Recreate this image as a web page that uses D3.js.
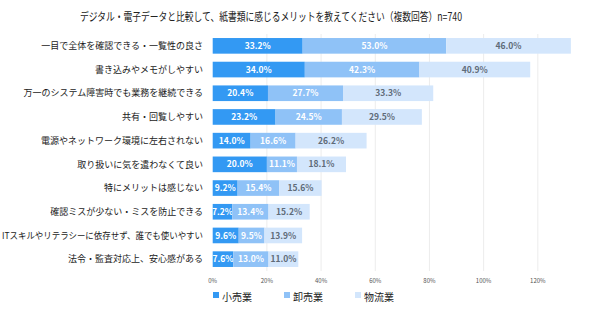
<!DOCTYPE html>
<html>
<head>
<meta charset="utf-8">
<script src="https://cdn.jsdelivr.net/npm/d3@7"></script>
<style>
  body { margin: 0; background: #fff; }
  text { font-family: "Noto Sans CJK JP", "Noto Sans", sans-serif; }
</style>
</head>
<body>
<div id="chart"></div>
<script>
const categories = [
  "一目で全体を確認できる・一覧性の良さ",
  "書き込みやメモがしやすい",
  "万一のシステム障害時でも業務を継続できる",
  "共有・回覧しやすい",
  "電源やネットワーク環境に左右されない",
  "取り扱いに気を遣わなくて良い",
  "特にメリットは感じない",
  "確認ミスが少ない・ミスを防止できる",
  "ITスキルやリテラシーに依存せず、誰でも使いやすい",
  "法令・監査対応上、安心感がある"
];
const seriesNames = ["小売業", "卸売業", "物流業"];
const retail = [33.2, 34.0, 20.4, 23.2, 14.0, 20.0, 9.2, 7.2, 9.6, 7.6];
const wholesale = [53.0, 42.3, 27.7, 24.5, 16.6, 11.1, 15.4, 13.4, 9.5, 13.0];
const logistics = [46.0, 40.9, 33.3, 29.5, 26.2, 18.1, 15.6, 15.2, 13.9, 11.0];
const ticks = [0, 20, 40, 60, 80, 100, 120];
const colors = ["#3399f3", "#8fc2f7", "#d3e6fc"];
const labelColors = ["#ffffff", "#ffffff", "#5f6b78"];

const width = 590, height = 318;
const svg = d3.select("#chart").append("svg")
    .attr("width", width)
    .attr("height", height);

const x = d3.scaleLinear().domain([0, 140]).range([212.7, 592]);
const y = d3.scaleBand().domain(categories).range([34, 271]).paddingInner(0.34).paddingOuter(0.17);

// title
svg.append("text")
    .attr("x", 80)
    .attr("y", 21)
    .attr("textLength", 382)
    .attr("lengthAdjust", "spacingAndGlyphs")
    .style("font-size", "11.5px")
    .attr("fill", "#222")
    .text("デジタル・電子データと比較して、紙書類に感じるメリットを教えてください（複数回答）n=740");

// grid lines
svg.append("g").selectAll("line")
    .data(ticks.slice(1))
    .join("line")
    .attr("x1", d => x(d)).attr("x2", d => x(d))
    .attr("y1", 34).attr("y2", 271)
    .attr("stroke", "#ececec")
    .attr("stroke-width", 1);

// tick labels
svg.append("g").selectAll("text")
    .data(ticks)
    .join("text")
    .attr("x", d => x(d))
    .attr("y", 283)
    .attr("text-anchor", "middle")
    .style("font-size", "6px")
    .attr("fill", "#555")
    .text(d => d + "%");

// category labels, squeezed when too long
svg.append("g").selectAll("text")
    .data(categories)
    .join("text")
    .attr("x", 203)
    .attr("y", d => y(d) + y.bandwidth() / 2)
    .attr("dy", "0.35em")
    .attr("text-anchor", "end")
    .style("font-size", "9px")
    .attr("fill", "#1a1a1a")
    .text(d => d)
    .each(function() {
        const w = this.getComputedTextLength();
        if (w > 201) {
            d3.select(this).attr("textLength", 201).attr("lengthAdjust", "spacingAndGlyphs");
        }
    });

// stack
const rows = categories.map((c, i) => ({ cat: c, 小売業: retail[i], 卸売業: wholesale[i], 物流業: logistics[i] }));
const stacked = d3.stack().keys(seriesNames)(rows);

const layers = svg.append("g").selectAll("g")
    .data(stacked)
    .join("g");

layers.selectAll("rect")
    .data((s, si) => s.map(d => ({ d, si })))
    .join("rect")
    .attr("x", o => x(o.d[0]))
    .attr("y", o => y(o.d.data.cat))
    .attr("width", o => x(o.d[1]) - x(o.d[0]))
    .attr("height", y.bandwidth())
    .attr("fill", o => colors[o.si]);

layers.selectAll("text")
    .data((s, si) => s.map(d => ({ d, si })))
    .join("text")
    .attr("x", o => (x(o.d[0]) + x(o.d[1])) / 2)
    .attr("y", o => y(o.d.data.cat) + y.bandwidth() / 2)
    .attr("dy", "0.36em")
    .attr("text-anchor", "middle")
    .style("font-size", "8.5px")
    .style("font-weight", "bold")
    .attr("fill", o => labelColors[o.si])
    .text(o => (o.d[1] - o.d[0]).toFixed(1) + "%");

// legend
const legend = svg.append("g").selectAll("g")
    .data(seriesNames)
    .join("g")
    .attr("transform", (d, i) => `translate(${213 + i * 71}, 297)`);

legend.append("rect")
    .attr("x", 0).attr("y", -5)
    .attr("width", 6).attr("height", 6)
    .attr("fill", (d, i) => colors[i]);

legend.append("text")
    .attr("x", 9)
    .attr("y", 0)
    .attr("dy", "0.35em")
    .style("font-size", "10px")
    .attr("fill", "#222")
    .text(d => d);
</script>
</body>
</html>
